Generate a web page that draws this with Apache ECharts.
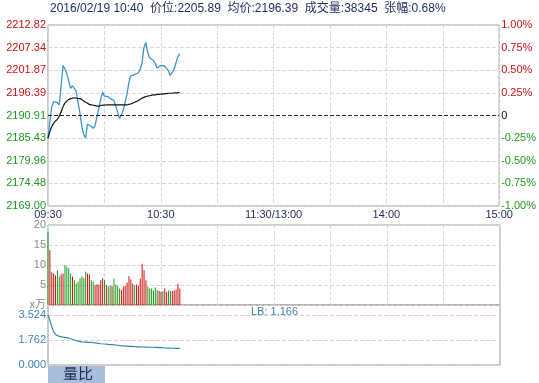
<!DOCTYPE html>
<html>
<head>
<meta charset="utf-8">
<script src="https://cdn.jsdelivr.net/npm/echarts@6/dist/echarts.min.js"></script>
<style>
html,body{margin:0;padding:0;background:#fff;}
#c{width:539px;height:383px;}
</style>
</head>
<body>
<div id="c"></div>
<script>
// ---- data ----
const preClose = 2190.91;
const titleText = '2016/02/19 10:40  价位:2205.89  均价:2196.39  成交量:38345  张幅:0.68%';
const xTickLabels = ['09:30', '', '10:30', '', '11:30/13:00', '', '14:00', '', '15:00'];
const priceTickLabels = ['2169.00', '2174.48', '2179.96', '2185.43', '2190.91', '2196.39', '2201.87', '2207.34', '2212.82'];
const pctTickLabels = ['-1.00%', '-0.75%', '-0.50%', '-0.25%', '0', '0.25%', '0.50%', '0.75%', '1.00%'];
const volTickLabels = ['x万', '5', '10', '15', '20'];
const ratioTickLabels = ['0.000', '1.762', '3.524'];

const price = [
  2185.4, 2189.5, 2193.0, 2194.3, 2194.4, 2194.0, 2193.5, 2198.3, 2203.0, 2202.2,
  2201.0, 2199.3, 2197.5, 2198.1, 2197.9, 2196.8, 2194.0, 2191.5, 2188.3, 2186.3,
  2185.5, 2188.8, 2188.8, 2188.3, 2187.8, 2188.4, 2190.6, 2192.5, 2194.8, 2196.5,
  2195.6, 2195.6, 2195.5, 2195.0, 2195.2, 2194.6, 2193.3, 2191.8, 2190.2, 2191.0,
  2192.2, 2194.0, 2196.0, 2198.8, 2200.5, 2200.9, 2200.8, 2200.8, 2201.2, 2202.0,
  2203.5, 2207.3, 2208.6, 2206.2, 2204.9, 2204.5, 2204.3, 2203.6, 2202.4, 2202.7,
  2203.0, 2202.7, 2202.9, 2203.1, 2201.8, 2200.6, 2200.7, 2202.0, 2203.5, 2205.0,
  2205.89
];
const avgPrice = [
  2185.4, 2187.0, 2188.2, 2189.0, 2189.6, 2190.0, 2190.8, 2191.8, 2193.0, 2193.9,
  2194.4, 2194.8, 2195.0, 2195.1, 2195.2, 2195.1, 2195.0, 2195.0, 2194.8, 2194.4,
  2194.1, 2193.9, 2193.6, 2193.5, 2193.4, 2193.3, 2193.2, 2193.2, 2193.3, 2193.4,
  2193.4, 2193.5, 2193.5, 2193.5, 2193.5, 2193.5, 2193.5, 2193.5, 2193.5, 2193.5,
  2193.5, 2193.5, 2193.5, 2193.6, 2193.7, 2193.9, 2194.1, 2194.3, 2194.5, 2194.8,
  2195.1, 2195.3, 2195.5, 2195.6, 2195.7, 2195.8, 2195.9, 2195.9, 2196.0, 2196.0,
  2196.1, 2196.1, 2196.2, 2196.2, 2196.3, 2196.3, 2196.3, 2196.4, 2196.4, 2196.4,
  2196.5
];
const volume = [
  18.3, 13.7, 8.2, 7.9, 7.4, 8.7, 7.1, 7.7, 7.9, 10.0,
  9.6, 9.2, 7.9, 7.1, 6.2, 5.4, 5.8, 6.7, 7.1, 6.8,
  8.3, 7.9, 7.7, 6.2, 5.8, 5.0, 5.2, 5.0, 6.2, 6.7,
  6.2, 5.0, 4.6, 4.8, 4.75, 6.6, 5.1, 4.8, 4.1, 3.7,
  4.6, 4.8, 5.6, 7.2, 6.4, 5.3, 4.8, 5.1, 4.8, 6.6,
  10.3, 8.7, 6.2, 4.6, 4.1, 4.1, 3.7, 4.4, 3.7, 3.5,
  3.3, 3.5, 4.1, 3.3, 3.7, 3.5, 3.5, 3.6, 3.8, 5.3,
  4.1
];
const ratio = [
  3.524, 3.15, 2.70, 2.35, 2.15, 2.08, 2.02, 1.99, 1.97, 1.95,
  1.93, 1.90, 1.85, 1.80, 1.76, 1.72, 1.68, 1.65, 1.63, 1.62,
  1.61, 1.60, 1.59, 1.58, 1.57, 1.56, 1.54, 1.52, 1.50, 1.49,
  1.48, 1.47, 1.45, 1.44, 1.43, 1.42, 1.41, 1.39, 1.37, 1.36,
  1.35, 1.34, 1.33, 1.32, 1.31, 1.30, 1.29, 1.28, 1.28, 1.27,
  1.27, 1.27, 1.26, 1.26, 1.25, 1.25, 1.25, 1.24, 1.24, 1.23,
  1.22, 1.21, 1.20, 1.19, 1.19, 1.18, 1.18, 1.17, 1.17, 1.17,
  1.166
];

// ---- chart ----
const FONT = '"Liberation Sans", Arial, "Noto Sans CJK SC", sans-serif';
const RED = '#cc1111', GREEN = '#1e9a1e';
const pInterval = preClose / 400;
const pairs = arr => arr.map((v, i) => [i, v]);
const volColors = price.map((p, i) => (p >= (i === 0 ? preClose : price[i - 1]) ? RED : GREEN));

const gridBase = {show: true, left: 48, width: 452, borderColor: '#9a9a9a', borderWidth: 1, backgroundColor: 'transparent'};
const xBase = {type: 'value', min: 0, max: 240, interval: 30,
  axisLine: {show: false}, axisTick: {show: false},
  splitLine: {show: true, lineStyle: {color: '#d8d8d8', type: 'dashed', width: 1}}};

const chart = echarts.init(document.getElementById('c'), null, {renderer: 'canvas'});
chart.setOption({
  animation: false,
  backgroundColor: '#fff',
  title: {text: titleText, left: 50, top: 3, padding: 0,
    textStyle: {fontSize: 12, fontWeight: 'normal', color: '#1f2a5c', fontFamily: FONT}},
  grid: [
    Object.assign({}, gridBase, {top: 25, height: 181}),
    Object.assign({}, gridBase, {top: 225, height: 80}),
    Object.assign({}, gridBase, {top: 305, height: 60})
  ],
  xAxis: [
    Object.assign({}, xBase, {gridIndex: 0,
      axisLabel: {show: true, margin: 3, fontSize: 11, color: '#1f2a5c', fontFamily: FONT,
        showMinLabel: true, showMaxLabel: true,
        formatter: v => xTickLabels[Math.round(v / 30)] || ''}}),
    Object.assign({}, xBase, {gridIndex: 1, axisLabel: {show: false}}),
    Object.assign({}, xBase, {gridIndex: 2, axisLabel: {show: false}, splitLine: {show: false}})
  ],
  yAxis: [
    {type: 'value', gridIndex: 0, min: 396 * pInterval, max: 404 * pInterval, interval: pInterval,
      axisLine: {show: false}, axisTick: {show: false},
      splitLine: {show: true, lineStyle: {color: '#d8d8d8', type: 'dashed'}},
      axisLabel: {margin: 2, fontSize: 11, fontFamily: FONT,
        formatter: (v, i) => priceTickLabels[i],
        color: (v, i) => (i > 4 ? RED : GREEN)}},
    {type: 'value', gridIndex: 0, position: 'right', min: 396 * pInterval, max: 404 * pInterval, interval: pInterval,
      axisLine: {show: false}, axisTick: {show: false}, splitLine: {show: false},
      axisLabel: {margin: 2, fontSize: 11, fontFamily: FONT,
        formatter: (v, i) => pctTickLabels[i],
        color: (v, i) => (i > 4 ? RED : (i === 4 ? '#111' : GREEN))}},
    {type: 'value', gridIndex: 1, min: 0, max: 20, interval: 5,
      axisLine: {show: false}, axisTick: {show: false},
      splitLine: {show: true, lineStyle: {color: '#d8d8d8', type: 'dashed'}},
      axisLabel: {margin: 2, fontSize: 11, fontFamily: FONT, color: '#8a8a8a',
        formatter: (v, i) => volTickLabels[i]}},
    {type: 'value', gridIndex: 2, min: 0, max: 4.23, interval: 1.762,
      axisLine: {show: false}, axisTick: {show: false},
      splitLine: {show: true, lineStyle: {color: '#ecc8c8', type: 'dashed'}},
      axisLabel: {margin: 2, fontSize: 11, fontFamily: FONT, color: '#3a80b4', showMaxLabel: false,
        formatter: (v, i) => ratioTickLabels[i] || ''}}
  ],
  series: [
    {type: 'line', xAxisIndex: 0, yAxisIndex: 0, data: pairs(price), symbol: 'none',
      lineStyle: {color: '#3a95c9', width: 1.3}, itemStyle: {color: '#3a95c9'},
      markLine: {silent: true, symbol: 'none', label: {show: false},
        lineStyle: {color: '#222', type: 'dashed', width: 1}, data: [{yAxis: preClose}]}},
    {type: 'line', xAxisIndex: 0, yAxisIndex: 0, data: pairs(avgPrice), symbol: 'none', smooth: 0.3,
      lineStyle: {color: '#111', width: 1.2}},
    {type: 'bar', xAxisIndex: 1, yAxisIndex: 2, data: pairs(volume), barWidth: 1,
      itemStyle: {color: p => volColors[p.dataIndex]}},
    {type: 'line', xAxisIndex: 2, yAxisIndex: 3, data: pairs(ratio), symbol: 'none',
      lineStyle: {color: '#2f86a8', width: 1.2}}
  ],
  graphic: [
    {type: 'text', left: 251, top: 306,
      style: {text: 'LB: ' + ratio[ratio.length - 1].toFixed(3), fill: '#3a80b4', font: '11px ' + FONT}},
    {type: 'rect', left: 48, top: 366, shape: {width: 57, height: 17}, style: {fill: '#a9bcd8'}},
    {type: 'text', left: 63, top: 366,
      style: {text: '量比', fill: '#1f2a5c', font: '15px "Noto Sans CJK SC", sans-serif'}}
  ]
});
</script>
</body>
</html>
